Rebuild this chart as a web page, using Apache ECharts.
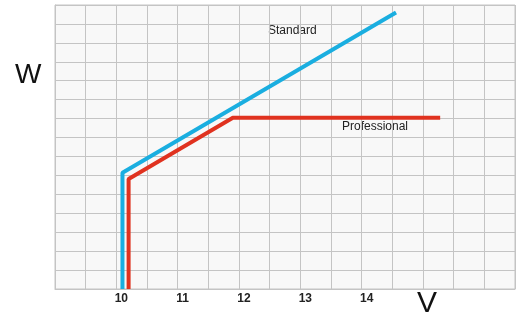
<!DOCTYPE html>
<html>
<head>
<meta charset="utf-8">
<script src="https://cdn.jsdelivr.net/npm/echarts@6/dist/echarts.min.js"></script>
<style>
  html, body { margin: 0; padding: 0; background: #fff; }
  #chart { width: 521px; height: 317px; }
</style>
</head>
<body>
<div id="chart"></div>
<script>
// tick labels shown on the V axis
const xLabels = [10, 11, 12, 13, 14];
// [V, W] points
const standardV = [10.1, 10.1, 14.56];
const standardW = [0, 6.14, 14.6];
const professionalV = [10.2, 10.2, 11.9, 15.28];
const professionalW = [0, 5.81, 9.05, 9.05];

const pairs = (xs, ys) => xs.map((x, i) => [x, ys[i]]);

const chart = echarts.init(document.getElementById("chart"));
const gridColor = "#c4c4c4";
chart.setOption({
  animation: false,
  grid: {
    left: 55,
    top: 5,
    width: 460,
    height: 284,
    show: true,
    backgroundColor: "#f8f8f8",
    borderColor: gridColor,
    borderWidth: 1
  },
  xAxis: {
    type: "value",
    min: 9,
    max: 16.5,
    interval: 0.5,
    axisLine: { lineStyle: { color: gridColor } },
    axisTick: { show: false },
    splitLine: { lineStyle: { color: gridColor, width: 1 } },
    axisLabel: {
      margin: 4,
      padding: [0, 0, 0, 10],
      color: "#222",
      fontSize: 12,
      fontWeight: "bold",
      fontFamily: "Liberation Sans, Arial, sans-serif",
      formatter: v => (xLabels.includes(v) ? String(v) : "")
    }
  },
  yAxis: {
    type: "value",
    min: 0,
    max: 15,
    interval: 1,
    axisLine: { lineStyle: { color: gridColor } },
    axisTick: { show: false },
    axisLabel: { show: false },
    splitLine: { lineStyle: { color: gridColor, width: 1 } }
  },
  series: [
    {
      name: "Standard",
      type: "line",
      data: pairs(standardV, standardW),
      symbol: "none",
      lineStyle: { color: "#1aaee0", width: 4 }
    },
    {
      name: "Professional",
      type: "line",
      data: pairs(professionalV, professionalW),
      symbol: "none",
      lineStyle: { color: "#e0321f", width: 4 }
    }
  ],
  graphic: [
    {
      type: "text", left: 268, top: 25,
      style: { text: "Standard", fill: "#222", font: "12px Liberation Sans, Arial, sans-serif" }
    },
    {
      type: "text", left: 342, top: 121,
      style: { text: "Professional", fill: "#222", font: "12px Liberation Sans, Arial, sans-serif" }
    },
    {
      type: "text", left: 15, top: 61,
      style: { text: "W", fill: "#111", font: "28px Liberation Sans, Arial, sans-serif" }
    },
    {
      type: "text", left: 417, top: 289,
      style: { text: "V", fill: "#111", font: "30px Liberation Sans, Arial, sans-serif" }
    }
  ]
});
</script>
</body>
</html>
